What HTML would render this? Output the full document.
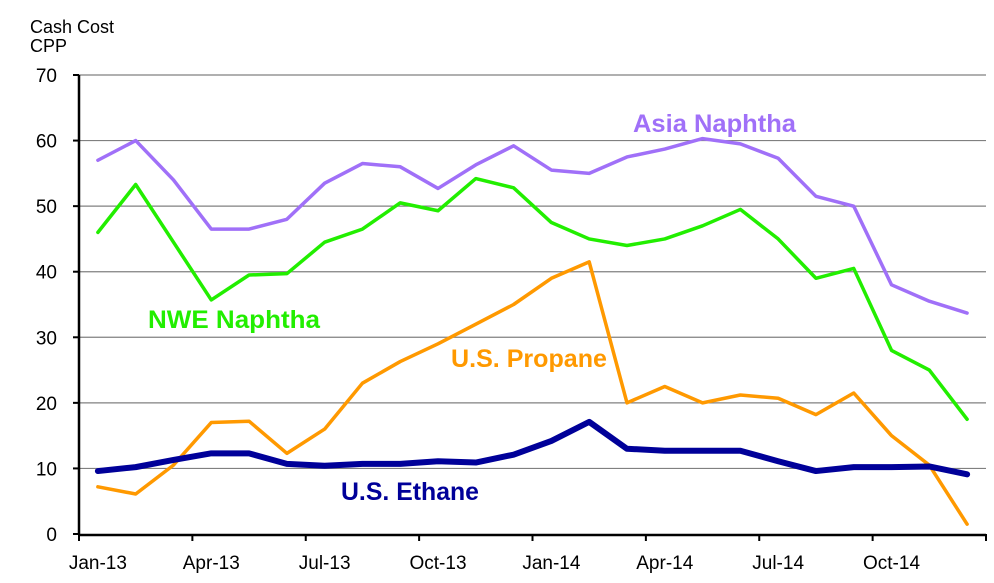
<!DOCTYPE html>
<html><head><meta charset="utf-8"><style>
body{margin:0;background:#fff;}
svg text{font-family:"Liberation Sans",sans-serif;}
</style></head><body>
<svg id="chart" width="994" height="578" xmlns="http://www.w3.org/2000/svg">
<text x="30" y="33" font-size="18">Cash Cost</text>
<text x="30" y="52" font-size="18">CPP</text>
<g id="grid"></g><g id="series"></g><g id="axes"></g>
<text x="633" y="132" font-size="25" font-weight="bold" fill="#a070f8" textLength="163" lengthAdjust="spacingAndGlyphs">Asia Naphtha</text>
<text x="148" y="328" font-size="25" font-weight="bold" fill="#22ee00" textLength="172" lengthAdjust="spacingAndGlyphs">NWE Naphtha</text>
<text x="451" y="367" font-size="25" font-weight="bold" fill="#ff9900" textLength="156" lengthAdjust="spacingAndGlyphs">U.S. Propane</text>
<text x="341" y="500" font-size="25" font-weight="bold" fill="#000099" textLength="138" lengthAdjust="spacingAndGlyphs">U.S. Ethane</text>
</svg>
<script>
const months = ["Jan-13","Feb-13","Mar-13","Apr-13","May-13","Jun-13","Jul-13","Aug-13","Sep-13","Oct-13","Nov-13","Dec-13","Jan-14","Feb-14","Mar-14","Apr-14","May-14","Jun-14","Jul-14","Aug-14","Sep-14","Oct-14","Nov-14","Dec-14"];
const asiaNaphtha = [57,60,54,46.5,46.5,48,53.5,56.5,56,52.7,56.3,59.2,55.5,55,57.5,58.7,60.3,59.5,57.3,51.5,50,38,35.5,33.7];
const nweNaphtha = [46,53.3,44.5,35.7,39.5,39.7,44.5,46.5,50.5,49.3,54.2,52.8,47.5,45,44,45,47,49.5,45,39,40.5,28,25,17.5];
const usPropane = [7.2,6.1,10.5,17,17.2,12.3,16,23,26.3,29,32,35,39,41.5,20,22.5,20,21.2,20.7,18.2,21.5,15,10.5,1.5];
const usEthane = [9.6,10.2,11.3,12.3,12.3,10.7,10.4,10.7,10.7,11.1,10.9,12.1,14.2,17.1,13,12.7,12.7,12.7,11.1,9.6,10.2,10.2,10.3,9.1];
const yTicks = [0,10,20,30,40,50,60,70];

const NS="http://www.w3.org/2000/svg";
const X0=79, X1=986, Y0=534, Y70=75;
const step=(X1-X0)/months.length;
const x=i=>X0+step*(i+0.5);
const y=v=>Y0-(v/70)*(Y0-Y70);
function mk(tag,attrs,parent){const e=document.createElementNS(NS,tag);for(const k in attrs)e.setAttribute(k,attrs[k]);parent.appendChild(e);return e;}
const grid=document.getElementById('grid'),axes=document.getElementById('axes'),ser=document.getElementById('series');
yTicks.forEach(t=>{
  if(t>0){const g=mk('line',{x1:X0,x2:X1,y1:y(t),y2:y(t),stroke:'#808080','stroke-width':1.2},grid);
  
  }
  const tk=mk('line',{x1:X0-6,x2:X0,y1:y(t),y2:y(t),stroke:'#000','stroke-width':2},axes);
  
  
  const lb=mk('text',{x:X0-22,y:y(t)+7,'font-size':19,'text-anchor':'end'},axes);
  lb.textContent=t;
  
  
});
const ya=mk('line',{x1:X0,x2:X0,y1:Y70,y2:Y0+1,stroke:'#000','stroke-width':2.5},axes);


const xa=mk('line',{x1:X0,x2:X1,y1:Y0+1,y2:Y0+1,stroke:'#000','stroke-width':2.5},axes);


for(let i=0;i<=months.length;i+=3){
  const tx=X0+step*i;
  const tk=mk('line',{x1:tx,x2:tx,y1:Y0,y2:Y0+7,stroke:'#000','stroke-width':2},axes);
  
  
  if(i<months.length){
    const lb=mk('text',{x:x(i),y:Y0+35,'font-size':19,'text-anchor':'middle'},axes);
    lb.textContent=months[i];
    
    
  }
}
function line(data,color,w,name){
  const p=mk('polyline',{points:data.map((v,i)=>x(i)+','+y(v)).join(' '),fill:'none',stroke:color,'stroke-width':w,'stroke-linejoin':'round','stroke-linecap':'round'},ser);
  
  
}
line(asiaNaphtha,'#a070f8',3.5,'asia-naphtha-line');
line(nweNaphtha,'#22ee00',3.5,'nwe-naphtha-line');
line(usPropane,'#ff9900',3.5,'us-propane-line');
line(usEthane,'#000099',6,'us-ethane-line');
</script>
</body></html>
